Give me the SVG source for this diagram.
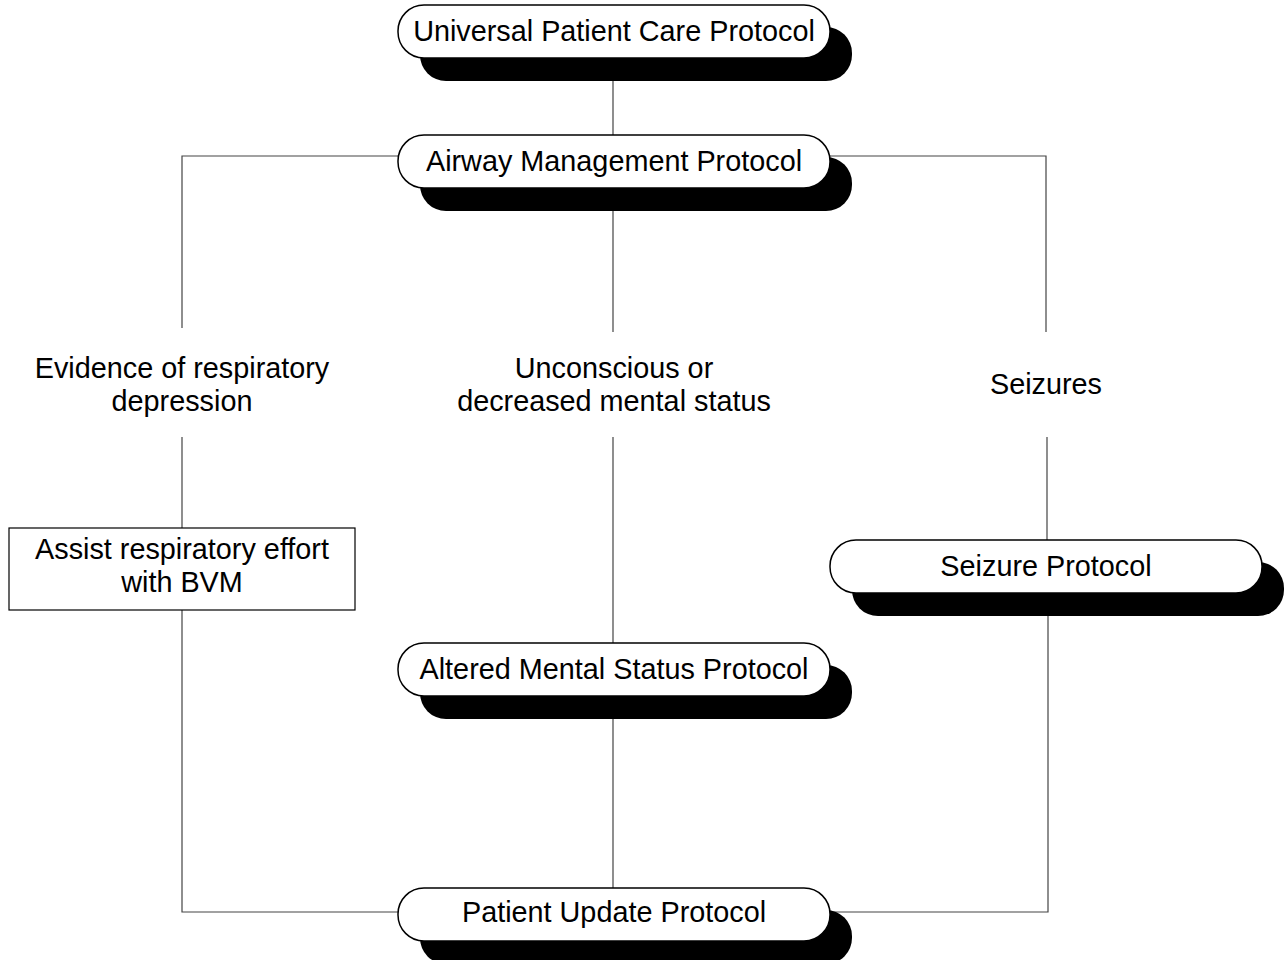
<svg xmlns="http://www.w3.org/2000/svg" width="1284" height="960" viewBox="0 0 1284 960">
  <style>
    .wire { fill: none; stroke: #444; stroke-width: 1.2; }
    .shadow { fill: #000; }
    .pill { fill: #fff; stroke: #000; stroke-width: 1.5; }
    .box { fill: #fff; stroke: #000; stroke-width: 1.2; }
    .t { font-family: "Liberation Sans", Arial, sans-serif; font-size: 28.8px; fill: #000; text-anchor: middle; }
  </style>
  <rect width="1284" height="960" fill="#fff"/>

  <g id="connectors">
    <line class="wire" x1="613" y1="78" x2="613" y2="135"/>
    <polyline class="wire" points="398,156 182,156 182,328"/>
    <polyline class="wire" points="830,156 1046,156 1046,332"/>
    <line class="wire" x1="613" y1="210" x2="613" y2="332"/>
    <line class="wire" x1="182" y1="437" x2="182" y2="528"/>
    <line class="wire" x1="613" y1="437" x2="613" y2="643"/>
    <line class="wire" x1="1047" y1="437" x2="1047" y2="540"/>
    <polyline class="wire" points="182,610 182,912 398,912"/>
    <line class="wire" x1="613" y1="718" x2="613" y2="888"/>
    <polyline class="wire" points="1048,615 1048,912 830,912"/>
  </g>

  <g id="universal">
    <rect class="shadow" x="420" y="27" width="432" height="54" rx="26" ry="26"/>
    <rect class="pill" x="398" y="5" width="432" height="53" rx="26" ry="26"/>
    <text class="t" x="614" y="41">Universal Patient Care Protocol</text>
  </g>

  <g id="airway">
    <rect class="shadow" x="420" y="157" width="432" height="54" rx="26" ry="26"/>
    <rect class="pill" x="398" y="135" width="432" height="53" rx="26" ry="26"/>
    <text class="t" x="614" y="171">Airway Management Protocol</text>
  </g>

  <g id="cond-respiratory">
    <text class="t" x="182" y="378">Evidence of respiratory</text>
    <text class="t" x="182" y="411">depression</text>
  </g>

  <g id="cond-unconscious">
    <text class="t" x="614" y="378">Unconscious or</text>
    <text class="t" x="614" y="411">decreased mental status</text>
  </g>

  <g id="cond-seizures">
    <text class="t" x="1046" y="394">Seizures</text>
  </g>

  <g id="assist-bvm">
    <rect class="box" x="9" y="528" width="346" height="82"/>
    <text class="t" x="182" y="559">Assist respiratory effort</text>
    <text class="t" x="182" y="592">with BVM</text>
  </g>

  <g id="seizure-protocol">
    <rect class="shadow" x="852" y="562" width="432" height="54" rx="26" ry="26"/>
    <rect class="pill" x="830" y="540" width="432" height="53" rx="26" ry="26"/>
    <text class="t" x="1046" y="576">Seizure Protocol</text>
  </g>

  <g id="altered-mental-status">
    <rect class="shadow" x="420" y="665" width="432" height="54" rx="26" ry="26"/>
    <rect class="pill" x="398" y="643" width="432" height="53" rx="26" ry="26"/>
    <text class="t" x="614" y="679">Altered Mental Status Protocol</text>
  </g>

  <g id="patient-update">
    <rect class="shadow" x="420" y="910" width="432" height="54" rx="26" ry="26"/>
    <rect class="pill" x="398" y="888" width="432" height="53" rx="26" ry="26"/>
    <text class="t" x="614" y="922">Patient Update Protocol</text>
  </g>
</svg>
